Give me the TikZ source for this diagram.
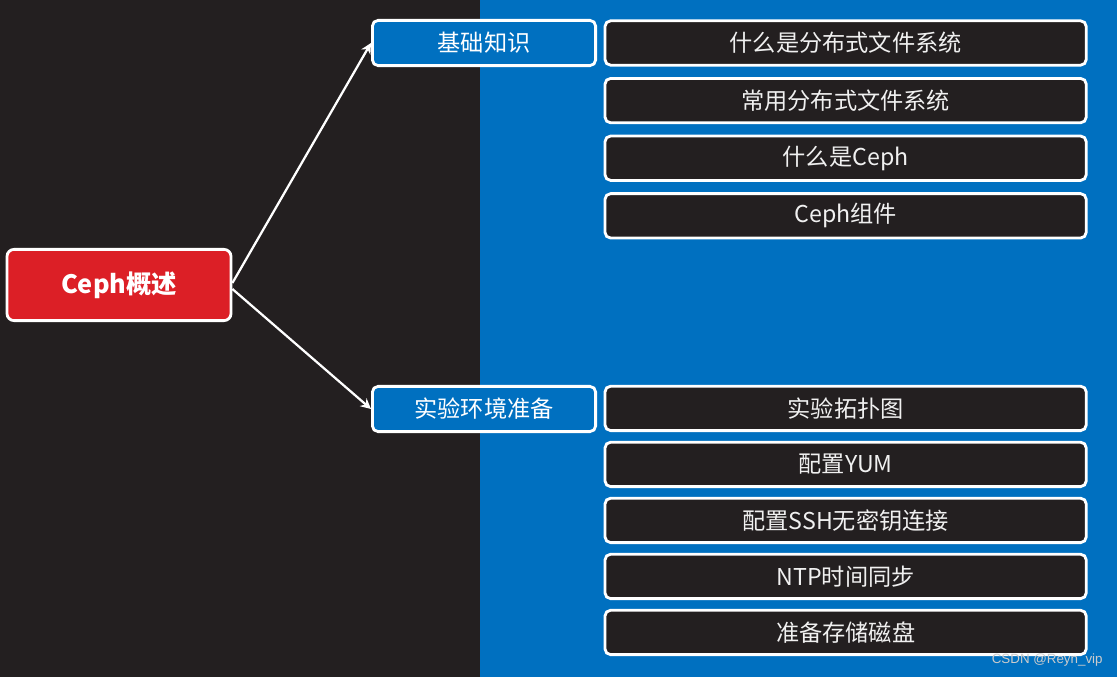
\documentclass[tikz,border=0pt]{standalone}
\usepackage{fontspec}
\setmainfont{Noto Sans CJK SC}
\newfontfamily\markfont{Liberation Sans}
\usepackage{tikz}
\usetikzlibrary{arrows.meta, positioning}
\definecolor{darkbg}{HTML}{231F20}
\definecolor{bluebg}{HTML}{0070C0}
\definecolor{rootred}{HTML}{DC1F26}
\tikzset{
    rootbox/.style={rectangle, rounded corners=5pt, draw=white, line width=2pt, fill=rootred, minimum width=5.6cm, minimum height=1.78cm, text=white, font=\fontsize{18}{22}\selectfont\bfseries},
    topicbox/.style={rectangle, rounded corners=4pt, draw=white, line width=2pt, fill=bluebg, minimum width=5.58cm, minimum height=1.13cm, text=white, font=\fontsize{16.5}{20}\selectfont},
    itembox/.style={rectangle, rounded corners=4pt, draw=white, line width=2pt, fill=darkbg, minimum width=12.03cm, minimum height=1.11cm, text=white!94!black, font=\fontsize{16.5}{20}\selectfont},
    arrow/.style={-{Stealth[length=2.6mm, width=2.6mm]}, line width=1.6pt, white},
}

\begin{document}
\begin{tikzpicture}[node distance=0.22cm]
        % Background
        \fill[darkbg] (0,0) rectangle (12,-16.925);
        \fill[bluebg] (12,0) rectangle (27.925,-16.925);
        \useasboundingbox (0,0) rectangle (27.925,-16.925);

        % Nodes
        \node[rootbox] (root) at (2.975,-7.125) {Ceph概述};
        \node[topicbox] (basics) at (12.1,-1.075) {基础知识};
        \node[topicbox] (prepare) at (12.1,-10.225) {实验环境准备};

        \node[itembox] (dfs) at (21.14,-1.075) {什么是分布式文件系统};
        \node[itembox, below=0.26cm of dfs] (common) {常用分布式文件系统};
        \node[itembox, below=0.26cm of common] (whatceph) {什么是Ceph};
        \node[itembox, below=0.26cm of whatceph] (parts) {Ceph组件};

        \node[itembox] (topo) at (21.14,-10.21) {实验拓扑图};
        \node[itembox, below=of topo] (yum) {配置YUM};
        \node[itembox, below=of yum] (ssh) {配置SSH无密钥连接};
        \node[itembox, below=of ssh] (ntp) {NTP时间同步};
        \node[itembox, below=of ntp] (disk) {准备存储磁盘};

        \node[font=\markfont\fontsize{9.5}{11}\selectfont, text=white!80!black] (watermark) at (26.18,-16.5) {CSDN @Reyn\_vip};

        % Connections
        \draw[arrow] ([yshift=0.05cm]root.east) -- (basics.west);
        \draw[arrow] ([yshift=-0.1cm]root.east) -- (prepare.west);
    \end{tikzpicture}
\end{document}
